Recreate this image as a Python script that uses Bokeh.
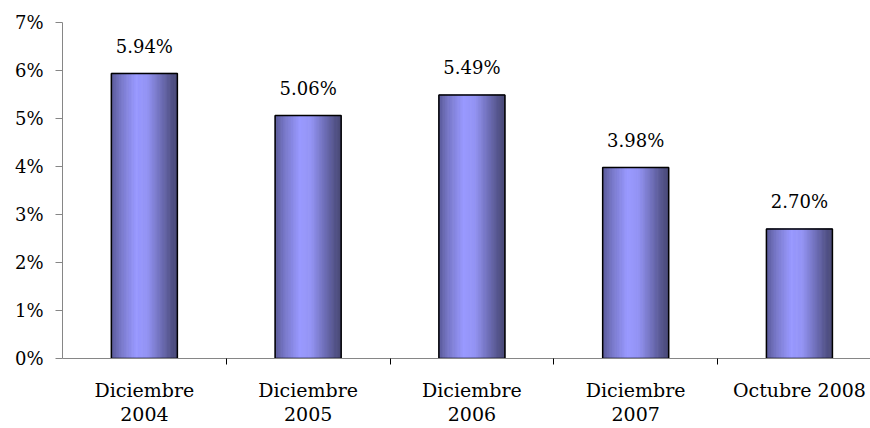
from bokeh.plotting import figure
from bokeh.models import Range1d, FixedTicker, ColumnDataSource
from bokeh.embed import file_html
from bokeh.resources import INLINE
from bokeh.core.properties import value

# Data
categories = ["Diciembre\n2004", "Diciembre\n2005", "Diciembre\n2006", "Diciembre\n2007", "Octubre 2008"]
rates = [5.94, 5.06, 5.49, 3.98, 2.70]
y_ticks = [0, 1, 2, 3, 4, 5, 6, 7]

FONT = "DejaVu Serif"
AXIS_GRAY = "#868686"
BAR_W = 0.403
N_STRIPS = 40

# Horizontal shading across each bar: (position, rgb)
shade_stops = [
    (0.00, (88, 88, 150)),
    (0.15, (120, 120, 200)),
    (0.38, (153, 153, 255)),
    (0.55, (148, 148, 244)),
    (0.75, (112, 112, 186)),
    (0.92, (82, 82, 135)),
    (1.00, (74, 74, 120)),
]


def shade(t):
    for (t0, c0), (t1, c1) in zip(shade_stops, shade_stops[1:]):
        if t0 <= t <= t1:
            f = (t - t0) / (t1 - t0) if t1 > t0 else 0
            r, g, b = (round(a + (b_ - a) * f) for a, b_ in zip(c0, c1))
            return "#%02x%02x%02x" % (r, g, b)
    return "#%02x%02x%02x" % shade_stops[-1][1]


centers = [i + 0.5 for i in range(len(categories))]

p = figure(width=870, height=428, output_backend="svg", toolbar_location=None,
           x_range=Range1d(0, 4.934), y_range=Range1d(0, 7),
           min_border_left=62, min_border_right=0, min_border_top=22,
           min_border_bottom=70)
p.outline_line_color = None
p.grid.visible = False
p.background_fill_color = "white"
p.border_fill_color = "white"

# Shaded bars built from thin vertical strips
strip_w = BAR_W / N_STRIPS
sx, stop, scol = [], [], []
for c, v in zip(centers, rates):
    for k in range(N_STRIPS):
        t = (k + 0.5) / N_STRIPS
        sx.append(c - BAR_W / 2 + (k + 0.5) * strip_w)
        stop.append(v)
        scol.append(shade(t))
strips = ColumnDataSource(dict(x=sx, top=stop, color=scol))
p.vbar(x="x", top="top", width=strip_w, bottom=0, fill_color="color",
       line_color="color", line_width=1, source=strips)

bars = ColumnDataSource(dict(x=centers, top=rates,
                             label=[f"{v:.2f}%" for v in rates]))
p.vbar(x="x", top="top", width=BAR_W, bottom=0, fill_alpha=0,
       line_color="black", line_width=1.5, source=bars)

p.text(x="x", y="top", text="label", source=bars, text_align="center",
       text_baseline="alphabetic", y_offset=-27, text_font=value(FONT),
       text_font_size="18px", text_color="black")

# Y axis
ya = p.yaxis[0]
ya.ticker = FixedTicker(ticks=y_ticks)
ya.major_label_overrides = {t: f"{t}%" for t in y_ticks}
ya.axis_line_color = AXIS_GRAY
ya.major_tick_line_color = AXIS_GRAY
ya.major_tick_out = 7
ya.major_tick_in = 0
ya.minor_tick_line_color = None
ya.major_label_text_font = FONT
ya.major_label_text_font_size = "18px"
ya.major_label_text_color = "black"
ya.major_label_standoff = 12

# X axis: labels centred on bars, small ticks between categories
xa = p.xaxis[0]
xa.ticker = FixedTicker(ticks=centers, minor_ticks=[1, 2, 3, 4])
xa.major_label_overrides = {c: lab for c, lab in zip(centers, categories)}
xa.axis_line_color = AXIS_GRAY
xa.major_tick_line_color = None
xa.major_tick_out = 0
xa.major_tick_in = 0
xa.minor_tick_line_color = "black"
xa.minor_tick_out = 6
xa.minor_tick_in = 0
xa.major_label_text_font = FONT
xa.major_label_text_font_size = "19px"
xa.major_label_text_color = "black"
xa.major_label_text_line_height = 1.13
xa.major_label_standoff = 14

open("out.html", "w").write(file_html(p, INLINE))
